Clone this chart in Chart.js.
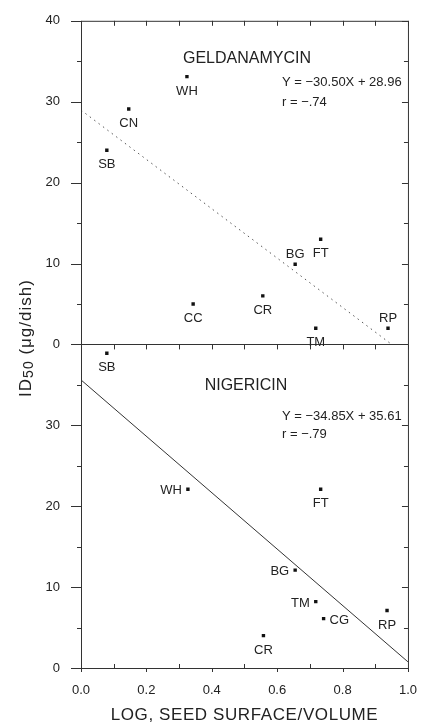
<!DOCTYPE html>
<html>
<head>
<meta charset="utf-8">
<script src="https://cdn.jsdelivr.net/npm/chart.js@4.4.0/dist/chart.umd.min.js"></script>
<style>
  html, body { margin: 0; padding: 0; background: #fff; }
  #wrap { width: 424px; height: 726px; }
</style>
</head>
<body>
<div id="wrap"><canvas id="myChart" width="424" height="726"></canvas></div>
<script>
// 위 패널: Geldanamycin
const gelCodes = ['WH', 'CN', 'SB', 'CC', 'CR', 'BG', 'FT', 'TM', 'RP']
const gelX = [0.324, 0.146, 0.079, 0.343, 0.556, 0.655, 0.733, 0.718, 0.939]
const gelY = [33.1, 29.1, 24.0, 5.0, 6.0, 9.9, 13.0, 2.0, 2.0]
const gelLabelPos = ['below', 'below', 'below', 'below', 'below', 'above', 'below', 'below', 'above']
const gelFitX = [0, 0.95]
const gelFitY = [28.96, 0]

// 아래 패널: Nigericin
const nigCodes = ['SB', 'WH', 'FT', 'BG', 'TM', 'CG', 'RP', 'CR']
const nigX = [0.079, 0.327, 0.733, 0.655, 0.718, 0.742, 0.936, 0.558]
const nigY = [38.9, 22.1, 22.1, 12.1, 8.2, 6.1, 7.1, 4.0]
const nigLabelPos = ['below', 'left', 'below', 'left', 'left', 'right', 'below', 'below']
const nigFitX = [0, 1.0]
const nigFitY = [35.61, 0.76]

const xTicks = [0, 0.2, 0.4, 0.6, 0.8, 1.0]
const yTicks = [0, 10, 20, 30, 40]

const gelTitle = ['GELDANAMYCIN', 'Y = \u221230.50X + 28.96', 'r = \u2212.74']
const nigTitle = ['NIGERICIN', 'Y = \u221234.85X + 35.61', 'r = \u2212.79']

// 두 패널을 y축 하나(-40 ~ 40)에 쌓는다. 아래 패널 값은 40을 빼서 올림
const PANEL = 40
const FONT = "'Liberation Sans', Arial, sans-serif"
const INK = '#222'

function pts(xs, ys, shift) {
    return xs.map((x, i) => ({ x: x, y: ys[i] - shift }))
}

const ctx = document.getElementById('myChart').getContext('2d')

// 틀, 눈금, 글자들 그리기
const decor = {
    id: 'decor',
    afterDraw(chart) {
        const c = chart.ctx
        const xs = chart.scales.x
        const ys = chart.scales.y
        const L = xs.left, R = xs.right, T = ys.top, B = ys.bottom
        const mid = ys.getPixelForValue(0)
        c.save()
        c.strokeStyle = '#333'
        c.lineWidth = 1
        c.beginPath()
        c.rect(L + 0.5, T + 0.5, R - L, B - T)
        c.moveTo(L, Math.round(mid) + 0.5)
        c.lineTo(R, Math.round(mid) + 0.5)
        c.stroke()

        // y 눈금 (5 간격)
        c.beginPath()
        for (let v = -PANEL; v <= PANEL; v += 5) {
            const y = Math.round(ys.getPixelForValue(v)) + 0.5
            const major = v % 10 === 0
            c.moveTo(L, y)
            c.lineTo(L - (major ? 10 : 4), y)
            c.moveTo(R, y)
            c.lineTo(R - (major ? 6 : 4), y)
        }
        // x 눈금 (0.1 간격)
        for (let k = 0; k <= 10; k++) {
            const x = Math.round(xs.getPixelForValue(k / 10)) + 0.5
            c.moveTo(x, T)
            c.lineTo(x, T + 5)
            c.moveTo(x, mid)
            c.lineTo(x, mid + 5)
            if (k % 2 === 0) {
                c.moveTo(x, B)
                c.lineTo(x, B + 4)
            } else {
                c.moveTo(x, B)
                c.lineTo(x, B - 4)
            }
        }
        c.stroke()

        // 점 이름
        c.fillStyle = INK
        c.font = '13px ' + FONT
        const drawLabels = (meta, codes, where) => {
            meta.data.forEach((p, i) => {
                const pos = where[i]
                if (pos === 'below') {
                    c.textAlign = 'center'
                    c.fillText(codes[i], p.x, p.y + 18)
                } else if (pos === 'above') {
                    c.textAlign = 'center'
                    c.fillText(codes[i], p.x, p.y - 6)
                } else if (pos === 'left') {
                    c.textAlign = 'right'
                    c.fillText(codes[i], p.x - 6, p.y + 5)
                } else {
                    c.textAlign = 'left'
                    c.fillText(codes[i], p.x + 6, p.y + 5)
                }
            })
        }
        drawLabels(chart.getDatasetMeta(0), gelCodes, gelLabelPos)
        drawLabels(chart.getDatasetMeta(1), nigCodes, nigLabelPos)

        // 패널 제목과 회귀식
        c.textAlign = 'center'
        c.font = '16px ' + FONT
        c.fillText(gelTitle[0], 247, 63)
        c.fillText(nigTitle[0], 246, 390)
        c.textAlign = 'left'
        c.font = '13px ' + FONT
        c.fillText(gelTitle[1], 282, 86)
        c.fillText(gelTitle[2], 282, 106)
        c.fillText(nigTitle[1], 282, 420)
        c.fillText(nigTitle[2], 282, 438)

        // x축 제목
        c.textAlign = 'center'
        c.font = '17px ' + FONT
        c.letterSpacing = '0.6px'
        c.fillText('LOG, SEED SURFACE/VOLUME', (L + R) / 2 - 0, 720)

        // y축 제목 (ID50 아래첨자)
        c.translate(31, 338)
        c.rotate(-Math.PI / 2)
        c.letterSpacing = '1px'
        c.textAlign = 'left'
        const big = '17px ' + FONT, small = '14px ' + FONT
        c.font = big
        const w1 = c.measureText('ID').width
        const w3 = c.measureText(' (\u03bcg/dish)').width
        c.font = small
        const w2 = c.measureText('50').width
        let x0 = -(w1 + w2 + w3) / 2
        c.font = big
        c.fillText('ID', x0, 0)
        c.font = small
        c.fillText('50', x0 + w1, 2)
        c.font = big
        c.fillText(' (\u03bcg/dish)', x0 + w1 + w2, 0)
        c.restore()
    },
}

const myChart = new Chart(ctx, {
    type: 'scatter',
    data: {
        datasets: [
            {
                label: 'Geldanamycin',
                data: pts(gelX, gelY, 0),
                pointStyle: 'rect',
                pointRadius: 2.4,
                pointBorderWidth: 0,
                backgroundColor: '#111',
            },
            {
                label: 'Nigericin',
                data: pts(nigX, nigY, PANEL),
                pointStyle: 'rect',
                pointRadius: 2.4,
                pointBorderWidth: 0,
                backgroundColor: '#111',
            },
            {
                label: 'Geldanamycin fit',
                data: pts(gelFitX, gelFitY, 0),
                showLine: true,
                pointRadius: 0,
                borderColor: '#555',
                borderWidth: 1,
                borderDash: [1.5, 4],
            },
            {
                label: 'Nigericin fit',
                data: pts(nigFitX, nigFitY, PANEL),
                showLine: true,
                pointRadius: 0,
                borderColor: '#333',
                borderWidth: 1,
            },
        ],
    },
    options: {
        responsive: false,
        animation: false,
        layout: { padding: { top: 14, right: 13, left: 0, bottom: 0 } },
        plugins: { legend: { display: false }, tooltip: { enabled: false } },
        scales: {
            x: {
                type: 'linear',
                min: 0,
                max: 1,
                grid: { display: false },
                border: { display: false },
                afterBuildTicks(scale) {
                    scale.ticks = xTicks.map((v) => ({ value: v }))
                },
                afterFit(scale) {
                    scale.height = 58
                },
                ticks: {
                    padding: 7,
                    color: INK,
                    font: { family: FONT, size: 13 },
                    callback: (v) => Number(v).toFixed(1),
                },
            },
            y: {
                type: 'linear',
                min: -PANEL,
                max: PANEL,
                grid: { display: false },
                border: { display: false },
                afterBuildTicks(scale) {
                    const top = yTicks.map((v) => ({ value: v }))
                    const bottom = yTicks.slice(0, -1).map((v) => ({ value: v - PANEL }))
                    scale.ticks = bottom.concat(top)
                },
                afterFit(scale) {
                    scale.width = 81
                },
                ticks: {
                    padding: 13,
                    color: INK,
                    font: { family: FONT, size: 13 },
                    callback: (v) => (v >= 0 ? v : v + PANEL),
                },
            },
        },
    },
    plugins: [decor],
})
</script>
</body>
</html>
